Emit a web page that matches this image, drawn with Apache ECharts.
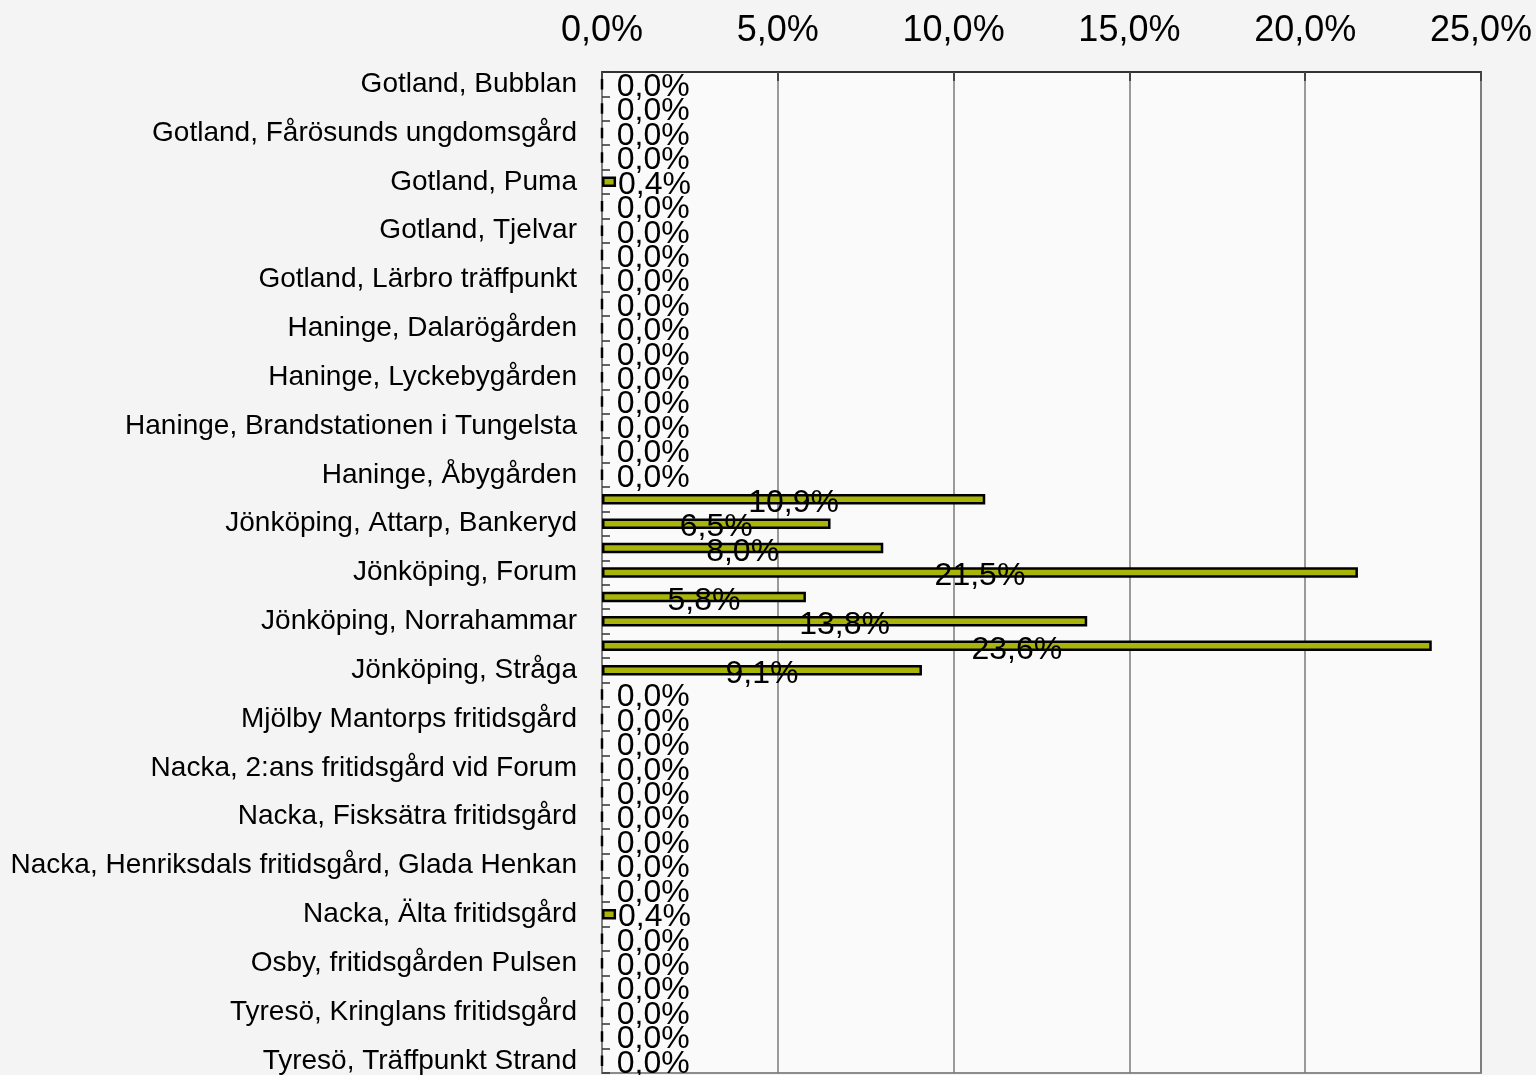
<!DOCTYPE html>
<html>
<head>
<meta charset="utf-8">
<script src="https://cdn.jsdelivr.net/npm/echarts@6/dist/echarts.min.js"></script>
<style>
html,body{margin:0;padding:0;background:#f4f4f4;}
#chart{width:1536px;height:1075px;}
</style>
</head>
<body>
<div id="chart"></div>
<script>
// Categories (only every other label is printed in the source chart; unlabeled rows are '')
var categories = [
  'Gotland, Bubblan', '',
  'Gotland, Fårösunds ungdomsgård', '',
  'Gotland, Puma', '',
  'Gotland, Tjelvar', '',
  'Gotland, Lärbro träffpunkt', '',
  'Haninge, Dalarögården', '',
  'Haninge, Lyckebygården', '',
  'Haninge, Brandstationen i Tungelsta', '',
  'Haninge, Åbygården', '',
  'Jönköping, Attarp, Bankeryd', '',
  'Jönköping, Forum', '',
  'Jönköping, Norrahammar', '',
  'Jönköping, Stråga', '',
  'Mjölby Mantorps fritidsgård', '',
  'Nacka, 2:ans fritidsgård vid Forum', '',
  'Nacka, Fisksätra fritidsgård', '',
  'Nacka, Henriksdals fritidsgård, Glada Henkan', '',
  'Nacka, Älta fritidsgård', '',
  'Osby, fritidsgården Pulsen', '',
  'Tyresö, Kringlans fritidsgård', '',
  'Tyresö, Träffpunkt Strand'
];
// Percent values, one per category row
var values = [
  0.0, 0.0, 0.0, 0.0, 0.4, 0.0, 0.0, 0.0, 0.0, 0.0,
  0.0, 0.0, 0.0, 0.0, 0.0, 0.0, 0.0, 10.9, 6.5, 8.0,
  21.5, 5.8, 13.8, 23.6, 9.1, 0.0, 0.0, 0.0, 0.0, 0.0,
  0.0, 0.0, 0.0, 0.0, 0.4, 0.0, 0.0, 0.0, 0.0, 0.0,
  0.0
];
var axisMin = 0, axisMax = 25, axisStep = 5;

function pct(v){ return v.toFixed(1).replace('.', ',') + '%'; }

var FONT = 'Liberation Sans, Arial, sans-serif';

var seriesData = values.map(function(v){
  var item = { value: v };
  if (v < 3) {
    item.label = { position: [16, '50%'], align: 'left', verticalAlign: 'middle', offset: [0, 3] };
  }
  return item;
});

var chart = echarts.init(document.getElementById('chart'), null, {renderer: 'canvas'});
chart.setOption({
  backgroundColor: '#f4f4f4',
  animation: false,
  grid: {
    left: 602, right: 55, top: 72, bottom: 2,
    containLabel: false, outerBoundsMode: 'none',
    show: true, backgroundColor: '#fafafa', borderColor: '#8c8c8c', borderWidth: 2
  },
  xAxis: {
    type: 'value', position: 'top',
    min: axisMin, max: axisMax, interval: axisStep,
    axisLine: { show: true, lineStyle: { color: '#333333', width: 2 } },
    axisTick: { show: true, inside: true, length: 9, lineStyle: { color: '#444444', width: 2 } },
    axisLabel: { formatter: pct, color: '#000', fontSize: 36, fontFamily: FONT, margin: 23 },
    splitLine: { show: true, lineStyle: { color: '#7a7a7a', width: 1.5 } }
  },
  yAxis: {
    type: 'category', inverse: true, data: categories,
    axisLine: { show: true, lineStyle: { color: '#808080', width: 2 } },
    axisTick: { show: true, inside: true, length: 8, lineStyle: { color: '#333333', width: 1.5 } },
    axisLabel: { interval: 0, color: '#000', fontSize: 28, fontFamily: FONT, margin: 25,
                 verticalAlign: 'middle', lineHeight: 28, padding: [6, 0, 0, 0] },
    splitLine: { show: false }
  },
  series: [{
    type: 'bar',
    data: seriesData,
    barWidth: 10.5,
    itemStyle: { color: '#a8b40a', borderColor: '#000', borderWidth: 2.5 },
    label: {
      show: true, position: 'inside', formatter: function(p){ return pct(p.value); },
      color: '#000', fontSize: 32, fontFamily: FONT, offset: [0, 4]
    }
  }]
});
</script>
</body>
</html>
